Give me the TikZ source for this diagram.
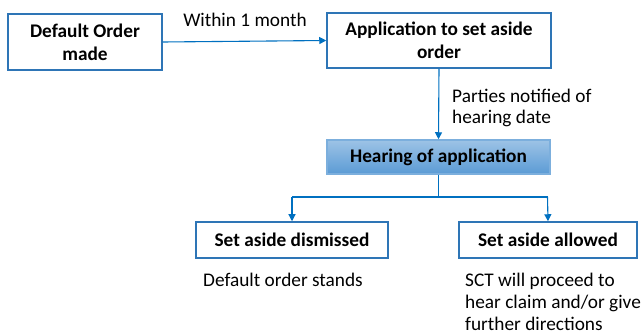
\documentclass[tikz,border=0pt]{standalone}
\usepackage{fontspec}
\setmainfont{Carlito}
\usetikzlibrary{arrows.meta}
\definecolor{lineblue}{RGB}{0,112,192}
\definecolor{boxblue}{RGB}{46,117,182}
\definecolor{gradtop}{RGB}{157,195,230}
\definecolor{gradbot}{RGB}{91,155,213}
\tikzset{
  stepbox/.style={draw=boxblue, line width=1.5pt, fill=white, font=\fontsize{19.3}{23}\selectfont\bfseries, align=center, inner sep=0pt},
  conn/.style={draw=lineblue, line width=1.1pt, -{Triangle[length=7pt,width=7pt]}},
  plain/.style={draw=lineblue, line width=1.1pt},
  note/.style={font=\fontsize{19.3}{22}\selectfont, align=left, inner sep=0pt, anchor=base west}
}
\begin{document}
\begin{tikzpicture}[x=1pt,y=-1pt]
\useasboundingbox (0,0) rectangle (643,334);
\node[stepbox, minimum width=154pt, minimum height=56pt] (a) at (85,42) {Default Order\\made};
\node[stepbox, minimum width=224pt, minimum height=55pt] (b) at (439,40.5) {Application to set aside\\order};
\node[stepbox, minimum width=223pt, minimum height=34pt, draw=gradbot!80!white, top color=gradtop, bottom color=gradbot] (c) at (438.5,157) {Hearing of application};
\node[stepbox, minimum width=192pt, minimum height=36pt] (d) at (292,240) {Set aside dismissed};
\node[stepbox, minimum width=178pt, minimum height=36pt] (e) at (548,240) {Set aside allowed};
\draw[conn] (a.east) -- (b.west);
\node[font=\fontsize{19.3}{22}\selectfont, inner sep=0pt, anchor=base] (l1) at (245,27) {Within 1 month};
\draw[conn] (b.south) -- (c.north);
\node[note, font=\fontsize{19.3}{21}\selectfont] (l2) at (452,124) {Parties notified of\\hearing date};
\coordinate (m) at (438.5,197);
\coordinate (ml) at (292,197);
\coordinate (mr) at (547.5,197);
\draw[plain] (c.south) -- (m);
\draw[plain] (ml) -- (mr);
\draw[conn] (ml) -- (d.north);
\draw[conn] (mr) -- (e.north);
\node[note] (n1) at (203,286) {Default order stands};
\node[note] (n2) at (465,330) {SCT will proceed to\\hear claim and/or give\\further directions};
\end{tikzpicture}
\end{document}
